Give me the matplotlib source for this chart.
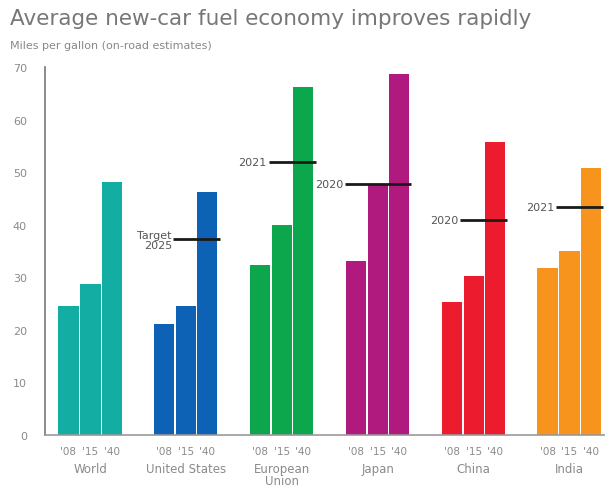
import matplotlib.pyplot as plt
import numpy as np

regions = ["World", "United States", "European\nUnion", "Japan", "China", "India"]
years = ["'08", "'15", "'40"]
mpg_2008 = [24.5, 21.1, 32.3, 33.1, 25.3, 31.7]
mpg_2015 = [28.7, 24.5, 39.9, 47.7, 30.2, 35.0]
mpg_2040 = [48.1, 46.2, 66.2, 68.6, 55.7, 50.8]
colors = ["#14ADA3", "#0E62B6", "#0CA64C", "#B0197E", "#EC1B2E", "#F7941D"]
target_values = [None, 37.3, 51.9, 47.7, 40.9, 43.3]
target_labels = [None, "Target\n2025", "2021", "2020", "2020", "2021"]
yticks = [0, 10, 20, 30, 40, 50, 60, 70]

fig = plt.figure(figsize=(6.05, 4.89), dpi=100)
ax = fig.add_axes([0.0744, 0.1084, 0.9256, 0.7526])

grey = "#8a8a8a"
x = np.arange(len(regions))
offsets = [-0.23, 0.0, 0.22]
width = 0.21
for vals, off in zip([mpg_2008, mpg_2015, mpg_2040], offsets):
    ax.bar(x + off, vals, width=width, color=colors, linewidth=0)

# target lines
for i, (tv, tl) in enumerate(zip(target_values, target_labels)):
    if tv is None:
        continue
    if i == 3:
        x0 = i - 0.345
    else:
        x0 = i - 0.14
    x1 = i + 0.35
    ax.plot([x0, x1], [tv, tv], color="#1a1a1a", lw=2, solid_capstyle="butt", zorder=5)
    if "\n" in tl:
        ax.text(x0 - 0.01, tv - 2.2, tl, ha="right", va="bottom", fontsize=8,
                color="#555555", linespacing=1.0)
    else:
        ax.text(x0 - 0.02, tv, tl, ha="right", va="center", fontsize=8, color="#555555")

ax.set_xlim(-0.475, 5.37)
ax.set_ylim(0, 70)
ax.set_yticks(yticks)
ax.set_yticklabels([str(v) for v in yticks], color=grey, fontsize=8)
ax.tick_params(axis="y", length=0, pad=13)
ax.set_xticks([])
for s in ["top", "right"]:
    ax.spines[s].set_visible(False)
ax.spines["left"].set_color("#777777")
ax.spines["left"].set_linewidth(1.2)
ax.spines["bottom"].set_color("#999999")
ax.spines["bottom"].set_linewidth(1.2)

# year labels and region names
for i in x:
    for off, yr in zip(offsets, years):
        ax.text(i + off, -2.0, yr, ha="center", va="top", fontsize=7.5, color=grey)
    ax.text(i, -5.1, regions[i], ha="center", va="top", fontsize=8.5, color=grey,
            linespacing=0.95, clip_on=False)

fig.text(0.017, 0.962, "Average new-car fuel economy improves rapidly", fontsize=15.5,
         color="#777777", ha="left", va="center")
fig.text(0.017, 0.905, "Miles per gallon (on-road estimates)", fontsize=8,
         color="#888888", ha="left", va="center")

fig.savefig("out.png", dpi=100)
